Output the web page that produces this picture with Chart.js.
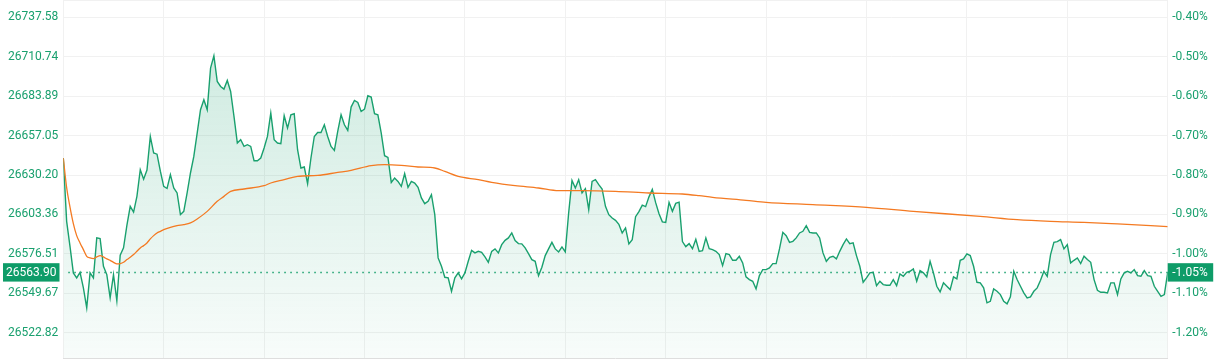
<!DOCTYPE html>
<html><head><meta charset="utf-8">
<script src="https://cdn.jsdelivr.net/npm/chart.js@4.4.1/dist/chart.umd.min.js"></script>
<style>html,body{margin:0;padding:0;background:#fff;}#wrap{width:1223px;height:360px;position:relative;}</style>
</head><body><div id="wrap"><canvas id="c" width="1223" height="360"></canvas></div>
<script>
// Intraday price per minute (0 = open, 330 = close)
const prices = [
26641.79,26598.66,26581.66,26563.56,26560.16,26563.97,26553.36,26539.75,26563.56,26560.16,
26587.37,26586.90,26568.05,26562.40,26546.55,26562.40,26544.58,26575.67,26580.57,26595.87,
26608.87,26604.92,26615.67,26633.83,26627.37,26633.63,26656.48,26645.19,26644.38,26632.81,
26622.47,26621.04,26630.43,26621.38,26617.98,26603.22,26605.46,26617.98,26631.59,26642.88,
26658.80,26674.65,26681.45,26674.65,26703.02,26711.38,26693.90,26690.50,26688.73,26694.58,
26687.10,26670.09,26651.99,26654.24,26649.68,26650.84,26649.68,26639.95,26639.95,26641.79,
26648.59,26656.48,26672.40,26654.24,26651.99,26651.52,26670.57,26662.20,26671.25,26671.93,
26647.44,26634.99,26635.67,26624.31,26641.79,26656.48,26659.21,26659.21,26664.44,26656.48,
26649.68,26646.96,26659.89,26671.25,26664.44,26660.57,26676.48,26680.97,26679.61,26673.49,
26675.12,26684.17,26683.29,26671.93,26671.25,26658.80,26643.36,26642.20,26625.19,26628.19,
26625.87,26622.47,26631.11,26621.79,26625.87,26624.78,26621.79,26614.58,26610.70,26612.27,
26616.83,26603.22,26573.76,26568.05,26560.57,26560.16,26551.04,26560.16,26563.56,26559.48,
26563.56,26571.45,26578.93,26577.17,26578.25,26577.57,26574.44,26570.77,26578.25,26579.89,
26577.17,26582.81,26585.74,26587.37,26590.77,26585.53,26583.49,26583.29,26580.57,26576.69,
26572.61,26571.45,26561.72,26567.37,26575.33,26579.89,26584.38,26579.89,26577.85,26581.25,
26577.85,26604.38,26626.55,26621.38,26627.03,26617.98,26620.91,26606.62,26625.87,26627.03,
26623.63,26620.70,26608.87,26603.22,26600.97,26599.34,26596.62,26590.77,26594.17,26583.36,
26586.21,26601.86,26605.26,26609.68,26608.66,26615.33,26620.43,26611.38,26603.90,26598.32,
26597.98,26611.59,26605.46,26610.91,26611.72,26584.85,26581.45,26583.49,26580.09,26586.42,
26578.25,26578.73,26587.37,26580.09,26579.41,26578.25,26576.01,26568.53,26576.69,26576.01,
26572.13,26572.13,26574.85,26570.36,26560.84,26559.00,26557.85,26552.68,26561.72,26565.80,
26565.80,26566.96,26569.89,26569.89,26579.89,26591.18,26588.93,26584.38,26585.06,26587.37,
26590.77,26591.86,26595.74,26591.18,26590.77,26590.77,26587.37,26577.17,26571.45,26574.17,
26574.85,26573.08,26578.25,26582.81,26586.69,26583.49,26583.97,26575.33,26568.05,26557.17,
26560.16,26563.56,26563.97,26554.92,26557.85,26555.60,26555.12,26555.12,26559.00,26554.92,
26562.88,26561.25,26563.97,26564.65,26566.28,26557.85,26565.12,26563.56,26560.84,26571.45,
26563.56,26554.44,26550.63,26556.76,26554.44,26552.20,26560.84,26559.48,26572.13,26573.08,
26576.48,26575.33,26568.05,26557.17,26556.76,26553.36,26543.15,26544.24,26552.68,26551.04,
26548.80,26544.24,26542.47,26547.23,26564.65,26559.00,26554.44,26549.95,26546.55,26547.23,
26551.04,26553.36,26558.53,26564.65,26561.25,26576.01,26584.38,26584.85,26586.21,26579.89,
26582.81,26570.36,26572.13,26573.76,26569.89,26574.85,26572.61,26570.77,26559.00,26551.72,
26550.36,26550.36,26549.95,26556.76,26556.76,26548.80,26559.48,26563.56,26564.65,26563.56,
26565.80,26561.72,26561.25,26565.12,26561.72,26561.25,26554.44,26551.04,26547.64,26548.80,
26563.90
];
// Average price line, read at selected minutes
const avgMinutes = [0,1,2,3,4,5,6,7,8,9,10,11,12,13,14,15,16,17,18,19,20,21,22,23,24,25,26,27,28,29,30,32,34,36,38,40,43,46,48,50,54,60,62,66,70,76,82,86,92,96,101,106,111,114,118,124,128,135,142,148,155,165,175,185,190,194,204,210,224,240,254,274,285,295,305,315,330];
const avgPrices = [26641.79,26621.59,26608.32,26597.10,26588.93,26583.97,26579.41,26574.85,26573.76,26573.29,26574.44,26575.33,26574.44,26573.08,26572.13,26570.77,26569.68,26569.89,26570.77,26572.61,26574.17,26576.01,26578.25,26580.57,26582.13,26583.97,26586.69,26588.93,26590.77,26591.86,26593.02,26594.58,26595.74,26596.42,26597.57,26600.29,26605.46,26612.27,26615.67,26619.07,26620.70,26622.95,26624.78,26627.03,26629.27,26629.95,26631.99,26633.36,26636.55,26637.23,26636.76,26635.67,26634.99,26632.68,26629.27,26627.03,26625.19,26622.95,26621.38,26619.55,26619.55,26619.07,26617.98,26617.30,26616.14,26614.99,26612.95,26611.59,26610.02,26608.19,26605.46,26602.06,26599.82,26598.66,26597.98,26596.89,26595.06];
// Axis ticks
const priceTicks = [26737.58,26710.74,26683.89,26657.05,26630.20,26603.36,26576.51,26549.67,26522.82];
const percentTicks = ['-0.40%','-0.50%','-0.60%','-0.70%','-0.80%','-0.90%','-1.00%','-1.10%','-1.20%'];
const lastPrice = 26563.90;
const lastPriceLabel = '26563.90';
const lastPercentLabel = '-1.05%';
const yMin = 26505.6, yMax = 26749.4;
const totalMinutes = 330;

const GREEN = '#19a06e', BOX = '#0e9c68', ORANGE = '#f47a22', GRID = '#f1f1f1';
const FONT = {family: 'Roboto', size: 12};

const overlay = {
  id: 'overlay',
  beforeDatasetsDraw(chart) {
    const {ctx, chartArea: a, scales} = chart;
    const y = Math.round(scales.y.getPixelForValue(lastPrice)) + 0.5;
    ctx.save();
    ctx.strokeStyle = GRID; ctx.lineWidth = 1;
    ctx.beginPath(); ctx.moveTo(a.left, a.top + 0.5); ctx.lineTo(a.right, a.top + 0.5); ctx.stroke();
    ctx.strokeStyle = GREEN; ctx.lineWidth = 1.3; ctx.setLineDash([1.5, 4.5]);
    ctx.beginPath(); ctx.moveTo(a.left + 5, y); ctx.lineTo(a.right, y); ctx.stroke();
    ctx.restore();
  },
  afterDraw(chart) {
    const {ctx, chartArea: a, scales} = chart;
    const y = scales.y.getPixelForValue(lastPrice);
    ctx.save();
    ctx.fillStyle = BOX;
    ctx.fillRect(3, y - 9.2, 56.5, 18.4);
    ctx.fillRect(a.right, y - 9.2, 45.5, 18.4);
    ctx.fillStyle = '#fff';
    ctx.font = '12px Roboto';
    ctx.textBaseline = 'middle';
    ctx.textAlign = 'center';
    ctx.fillText(lastPriceLabel, 31.3, y + 0.5);
    ctx.textAlign = 'left';
    ctx.fillText(lastPercentLabel, a.right + 4.5, y + 0.5);
    ctx.restore();
  }
};

const noPad = s => { s.paddingTop = 0; s.paddingBottom = 0; };

new Chart(document.getElementById('c'), {
  type: 'line',
  data: {
    datasets: [
      {
        data: avgMinutes.map((m, i) => ({x: m, y: avgPrices[i]})),
        borderColor: ORANGE, borderWidth: 1.3, pointRadius: 0, fill: false,
        cubicInterpolationMode: 'monotone', order: 0
      },
      {
        data: prices.map((p, i) => ({x: i, y: p})),
        borderColor: GREEN, borderWidth: 1.4, pointRadius: 0, tension: 0,
        fill: 'start', order: 1,
        backgroundColor: (c) => {
          const a = c.chart.chartArea;
          if (!a) return 'rgba(27,160,111,0.1)';
          const g = c.chart.ctx.createLinearGradient(0, a.top, 0, a.bottom);
          g.addColorStop(0, 'rgba(27,160,111,0.24)');
          g.addColorStop(1, 'rgba(27,160,111,0.03)');
          return g;
        }
      }
    ]
  },
  options: {
    responsive: false, animation: false, devicePixelRatio: 1,
    layout: {padding: {top: 0, bottom: 2, left: 0, right: 0}},
    plugins: {legend: {display: false}, tooltip: {enabled: false}},
    scales: {
      x: {
        type: 'linear', min: 0, max: totalMinutes,
        ticks: {display: false, stepSize: 30},
        grid: {color: GRID, drawTicks: false},
        border: {display: true, color: '#dedede'},
        afterFit: s => { s.height = 0; s.paddingLeft = 0; s.paddingRight = 0; }
      },
      y: {
        position: 'left', min: yMin, max: yMax,
        afterBuildTicks: s => { s.ticks = priceTicks.map(v => ({value: v})); },
        ticks: {color: GREEN, font: FONT, padding: 5, callback: v => v.toFixed(2)},
        grid: {color: GRID, drawTicks: false},
        border: {display: false},
        afterFit: s => { s.width = 63.3; noPad(s); }
      },
      y2: {
        position: 'right', min: yMin, max: yMax,
        afterBuildTicks: s => { s.ticks = priceTicks.map(v => ({value: v})); },
        ticks: {color: GREEN, font: FONT, padding: 4.5, callback: (v, i) => percentTicks[i]},
        grid: {display: false, drawTicks: false},
        border: {display: false},
        afterFit: s => { s.width = 55.3; noPad(s); }
      }
    }
  },
  plugins: [overlay]
});
</script>
</body></html>
